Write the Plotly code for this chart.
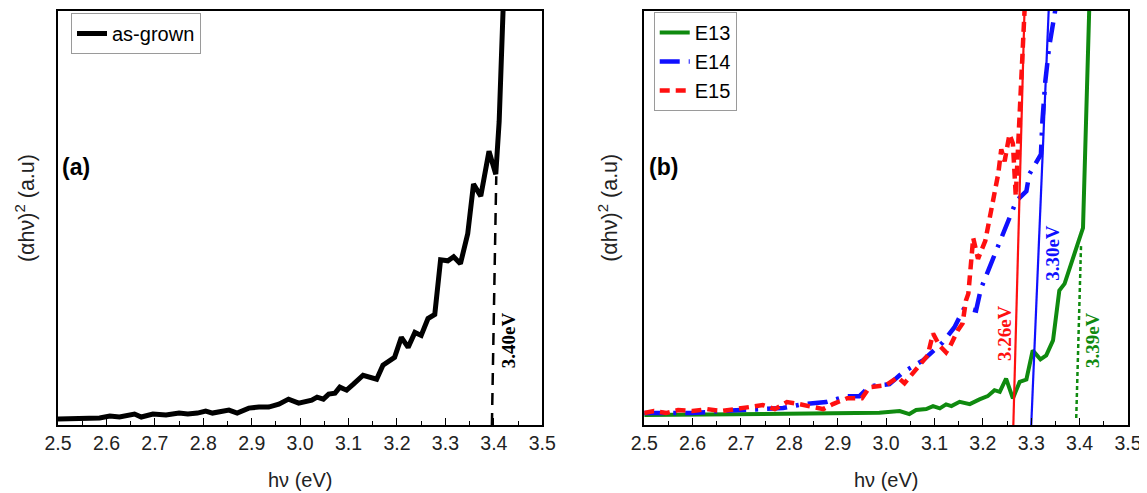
import plotly.graph_objects as go

# ---------------- Panel (a): as-grown ----------------
asg_x = [2.500, 2.545, 2.586, 2.607, 2.627, 2.658, 2.672, 2.696, 2.723, 2.750,
         2.768, 2.788, 2.805, 2.819, 2.836, 2.853, 2.870, 2.894, 2.915, 2.935,
         2.956, 2.976, 2.997, 3.024, 3.035, 3.048, 3.059, 3.072, 3.082, 3.096,
         3.110, 3.130, 3.158, 3.171, 3.195, 3.209, 3.223, 3.237, 3.250, 3.264,
         3.278, 3.290, 3.305, 3.317, 3.331, 3.346, 3.358, 3.373, 3.390, 3.404,
         3.411, 3.418, 3.420]
asg_y = [6, 7, 7, 9, 8, 11, 8, 11, 10, 12,
         11, 12, 14, 12, 13, 15, 12, 17, 18, 18,
         21, 26, 22, 25, 28, 26, 31, 32, 38, 35,
         41, 50, 46, 60, 68, 88, 78, 93, 90, 107,
         111, 166, 165, 169, 162, 192, 242, 230, 275, 252,
         305, 416, 430]
asg_fit_x = [3.396, 3.405]
asg_fit_y = [0, 250]

# ---------------- Panel (b): E13, E14, E15 ----------------
e13_x = [2.500, 2.600, 2.700, 2.800, 2.900, 2.986, 3.028, 3.048, 3.062, 3.083,
         3.097, 3.111, 3.124, 3.135, 3.152, 3.173, 3.193, 3.210, 3.224, 3.235,
         3.248, 3.262, 3.276, 3.290, 3.303, 3.319, 3.331, 3.345, 3.358, 3.369,
         3.396, 3.407, 3.420, 3.422]
e13_y = [10, 10.5, 11, 11.5, 12.5, 12.3, 14, 11, 15, 16,
         19, 16.7, 20.7, 19, 23.3, 21, 25.7, 29, 35, 33.3,
         46.7, 26.7, 43.3, 45.7, 75, 66, 70, 85, 135, 142,
         182, 198, 420, 430]

e14_x = [2.500, 2.553, 2.600, 2.656, 2.697, 2.735, 2.787, 2.828, 2.876, 2.918,
         2.945, 2.966, 3.007, 3.035, 3.076, 3.117, 3.141, 3.162, 3.186, 3.196,
         3.221, 3.242, 3.259, 3.269, 3.290, 3.296, 3.320, 3.323, 3.329, 3.337,
         3.348, 3.354]
e14_y = [12, 12, 12, 14, 15, 16, 17, 21, 23, 29,
         29, 39, 41, 53, 65, 83, 98, 118, 115, 137,
         168, 192, 215, 225, 235, 252, 272, 305, 345, 380,
         412, 430]

e15_x = [2.500, 2.520, 2.545, 2.570, 2.600, 2.630, 2.660, 2.690, 2.720, 2.745,
         2.770, 2.795, 2.820, 2.850, 2.870, 2.890, 2.920, 2.950, 2.966, 3.000,
         3.014, 3.024, 3.038, 3.060, 3.086, 3.097, 3.110, 3.124, 3.131, 3.148,
         3.158, 3.165, 3.170, 3.180, 3.190, 3.205, 3.215, 3.225, 3.232, 3.238,
         3.245, 3.255, 3.262, 3.268, 3.274, 3.281, 3.287]
e15_y = [12, 14, 12, 15, 14, 16, 14, 16, 18, 20,
         16, 23, 21, 18, 16, 21, 27, 27, 38, 40,
         45, 48, 42, 55, 70, 92, 80, 73, 78, 95,
         102, 125, 132, 188, 167, 185, 210, 230, 253, 277,
         265, 292, 283, 230, 295, 365, 425]

fit15_x = [3.263, 3.286]
fit15_y = [0, 416]
fit14_x = [3.300, 3.336]
fit14_y = [0, 416]
fit13_x = [3.393, 3.403]
fit13_y = [7, 182]

gap_labels = ["3.40eV", "3.26eV", "3.30eV", "3.39eV"]

GREEN = "#0f8a0f"
RED = "#ff1010"
BLUE = "#1010ff"

fig = go.Figure()

fig.add_trace(go.Scatter(x=asg_x, y=asg_y, mode="lines", name="as-grown",
                         line=dict(color="black", width=5),
                         xaxis="x", yaxis="y", legend="legend"))
fig.add_trace(go.Scatter(x=asg_fit_x, y=asg_fit_y, mode="lines", showlegend=False,
                         line=dict(color="black", width=2.5, dash="12px,8px"),
                         xaxis="x", yaxis="y"))

fig.add_trace(go.Scatter(x=e13_x, y=e13_y, mode="lines", name="E13",
                         line=dict(color=GREEN, width=4),
                         xaxis="x2", yaxis="y2", legend="legend2", legendgroup="g1"))
fig.add_trace(go.Scatter(x=e14_x, y=e14_y, mode="lines", name="E14",
                         line=dict(color=BLUE, width=4.5, dash="20px,9px,3px,9px"),
                         xaxis="x2", yaxis="y2", legend="legend2", legendgroup="g2"))
fig.add_trace(go.Scatter(x=e15_x, y=e15_y, mode="lines", name="E15",
                         line=dict(color=RED, width=4.5, dash="10px,6px"),
                         xaxis="x2", yaxis="y2", legend="legend2", legendgroup="g3"))

fig.add_trace(go.Scatter(x=fit15_x, y=fit15_y, mode="lines", showlegend=False,
                         line=dict(color=RED, width=2.2), xaxis="x2", yaxis="y2"))
fig.add_trace(go.Scatter(x=fit14_x, y=fit14_y, mode="lines", showlegend=False,
                         line=dict(color=BLUE, width=2.2), xaxis="x2", yaxis="y2"))
fig.add_trace(go.Scatter(x=fit13_x, y=fit13_y, mode="lines", showlegend=False,
                         line=dict(color=GREEN, width=2.5, dash="4px,3px"),
                         xaxis="x2", yaxis="y2"))

# The page body adds an 8px offset, so the figure is 8px smaller on each axis
OFF = 8
W, H = 1147 - OFF, 493 - OFF
L, R, T = 58 - OFF, 18.5, 9 - OFF
B = H - (425 - OFF)
PW = W - L - R
PH = H - T - B


def px(xp):
    return (xp - OFF - L) / PW


def py(yp):
    return (H - B - (yp - OFF)) / PH


tick_font = dict(family="Liberation Sans, Arial", size=19.5, color="#222")
xcommon = dict(range=[2.5, 3.5], dtick=0.1, tick0=2.5, tickformat=".1f",
               ticks="inside", ticklen=7, tickwidth=1.2, tickcolor="black",
               minor=dict(dtick=0.05, ticks="inside", ticklen=4, tickwidth=1.2,
                          tickcolor="black"),
               showline=True, linecolor="black", linewidth=1.5, mirror=True,
               showgrid=False, zeroline=False, tickfont=tick_font)
ycommon = dict(range=[0, 416], showticklabels=False, ticks="",
               showline=True, linecolor="black", linewidth=1.5, mirror=True,
               showgrid=False, zeroline=False)

legend_common = dict(xanchor="left", yanchor="top", bgcolor="white",
                     bordercolor="#9a9a9a", borderwidth=1,
                     font=dict(family="Liberation Sans, Arial", size=20, color="black"))

fig.update_layout(
    width=W, height=H,
    margin=dict(l=L, r=R, t=T, b=B),
    paper_bgcolor="white", plot_bgcolor="white",
    xaxis=dict(domain=[0, px(542.5)], anchor="y", **xcommon),
    yaxis=dict(domain=[0, 1], anchor="x", **ycommon),
    xaxis2=dict(domain=[px(644.5), 1], anchor="y2", **xcommon),
    yaxis2=dict(domain=[0, 1], anchor="x2", **ycommon),
    legend=dict(x=px(71), y=py(11), **legend_common),
    legend2=dict(x=px(654), y=py(10), tracegroupgap=0, **legend_common),
)

axis_font = dict(family="Liberation Sans, Arial", size=20, color="#222")
ann = []
for xc in (px(300), px(886.5)):
    ann.append(dict(text="hν (eV)", x=xc, y=py(480), xref="paper", yref="paper",
                    showarrow=False, font=axis_font, xanchor="center", yanchor="middle"))
for xc in (px(25), px(608)):
    ann.append(dict(text="(αhν)<sup>2</sup> (a.u)", x=xc, y=py(207), xref="paper",
                    yref="paper", showarrow=False, font=dict(axis_font, size=21.5),
                    textangle=-90, xanchor="center", yanchor="middle"))
for txt, xc in (("<b>(a)</b>", px(60)), ("<b>(b)</b>", px(647))):
    ann.append(dict(text=txt, x=xc, y=py(166), xref="paper", yref="paper",
                    showarrow=False, xanchor="left", yanchor="middle",
                    font=dict(family="Liberation Sans, Arial", size=23, color="black")))

serif = "Liberation Serif, Times New Roman"
lab_pos = [(3.431, 85, "x", "y", "black"),
           (3.245, 92, "x2", "y2", RED),
           (3.345, 173, "x2", "y2", BLUE),
           (3.427, 85, "x2", "y2", GREEN)]
for txt, (lx, ly, xr, yr, col) in zip(gap_labels, lab_pos):
    ann.append(dict(text="<b>" + txt + "</b>", x=lx, y=ly, xref=xr, yref=yr,
                    showarrow=False, textangle=-90, xanchor="center", yanchor="middle",
                    font=dict(family=serif, size=19, color=col)))

fig.update_layout(annotations=ann)
fig.write_html("out.html")
